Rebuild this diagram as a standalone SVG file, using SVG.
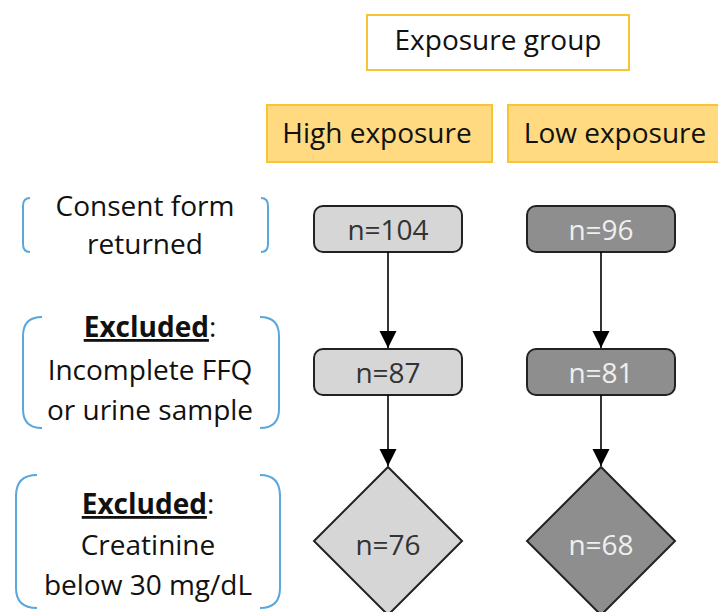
<svg xmlns="http://www.w3.org/2000/svg" width="718" height="612" viewBox="0 0 718 612">
<style>
text{font-family:"Open Sans","Liberation Sans",sans-serif;font-size:28px;text-anchor:middle;fill:#111}
.hdr{fill:#FFDA80;stroke:#F5C535;stroke-width:2}
.br{fill:none;stroke:#5AA7DE;stroke-width:2}
.lt{fill:#D6D6D6;stroke:#222;stroke-width:2}
.dk{fill:#8E8E8E;stroke:#222;stroke-width:2}
.lt-t{fill:#333}
.dk-t{fill:#EFEFEF}
.b{font-weight:bold;text-decoration:underline}
.conn line{stroke:#000;stroke-width:1.6}
</style>
<defs>
<marker id="ah" markerUnits="userSpaceOnUse" markerWidth="18" markerHeight="18" refX="17" refY="8.5" orient="auto">
<path d="M0,0 L17,8.5 L0,17 Z" fill="#000"/>
</marker>
</defs>
<rect width="718" height="612" fill="#fff"/>
<g id="exposure-group">
<rect x="367" y="15" width="262" height="55" fill="#fff" stroke="#F5C535" stroke-width="2"/>
<text x="498" y="50">Exposure group</text>
</g>
<g id="high-exposure">
<rect class="hdr" x="267" y="105" width="225" height="57"/>
<text x="377" y="143">High exposure</text>
</g>
<g id="low-exposure">
<rect class="hdr" x="508" y="105" width="225" height="57"/>
<text x="615" y="143">Low exposure</text>
</g>
<g id="label-consent">
<path class="br" d="M30,198 Q23,198 23,206 L23,244 Q23,252 30,252"/>
<path class="br" d="M261,198 Q268,198 268,206 L268,244 Q268,252 261,252"/>
<text x="145" y="216">Consent form</text>
<text x="145" y="254">returned</text>
</g>
<g id="label-excluded-ffq">
<path class="br" d="M42,317 Q23,317 23,336 L23,409 Q23,428 42,428"/>
<path class="br" d="M260,317 Q279,317 279,336 L279,409 Q279,428 260,428"/>
<text x="150" y="337"><tspan class="b">Excluded</tspan>:</text>
<text x="150" y="380">Incomplete FFQ</text>
<text x="150" y="420">or urine sample</text>
</g>
<g id="label-excluded-creatinine">
<path class="br" d="M37,475 Q16,475 16,496 L16,588 Q16,608 37,608"/>
<path class="br" d="M260,475 Q280,475 280,496 L280,588 Q280,608 260,608"/>
<text x="148" y="514"><tspan class="b">Excluded</tspan>:</text>
<text x="148" y="555">Creatinine</text>
<text x="148" y="595">below 30 mg/dL</text>
</g>
<g id="high-104">
<rect class="lt" x="314" y="206" width="148" height="46" rx="9"/>
<text class="lt-t" x="388" y="240">n=104</text>
</g>
<g id="low-96">
<rect class="dk" x="527" y="206" width="148" height="46" rx="9"/>
<text class="dk-t" x="601" y="240">n=96</text>
</g>
<g id="high-87">
<rect class="lt" x="314" y="349" width="148" height="46" rx="9"/>
<text class="lt-t" x="388" y="383">n=87</text>
</g>
<g id="low-81">
<rect class="dk" x="527" y="349" width="148" height="46" rx="9"/>
<text class="dk-t" x="601" y="383">n=81</text>
</g>
<g id="high-76">
<polygon class="lt" points="388,467 462,541 388,615 314,541"/>
<text class="lt-t" x="388" y="555">n=76</text>
</g>
<g id="low-68">
<polygon class="dk" points="601,467 675,541 601,615 527,541"/>
<text class="dk-t" x="601" y="555">n=68</text>
</g>
<g id="connectors" class="conn">
<line x1="388" y1="252" x2="388" y2="348" marker-end="url(#ah)"/>
<line x1="601" y1="252" x2="601" y2="348" marker-end="url(#ah)"/>
<line x1="388" y1="395" x2="388" y2="466" marker-end="url(#ah)"/>
<line x1="601" y1="395" x2="601" y2="466" marker-end="url(#ah)"/>
</g>
</svg>
